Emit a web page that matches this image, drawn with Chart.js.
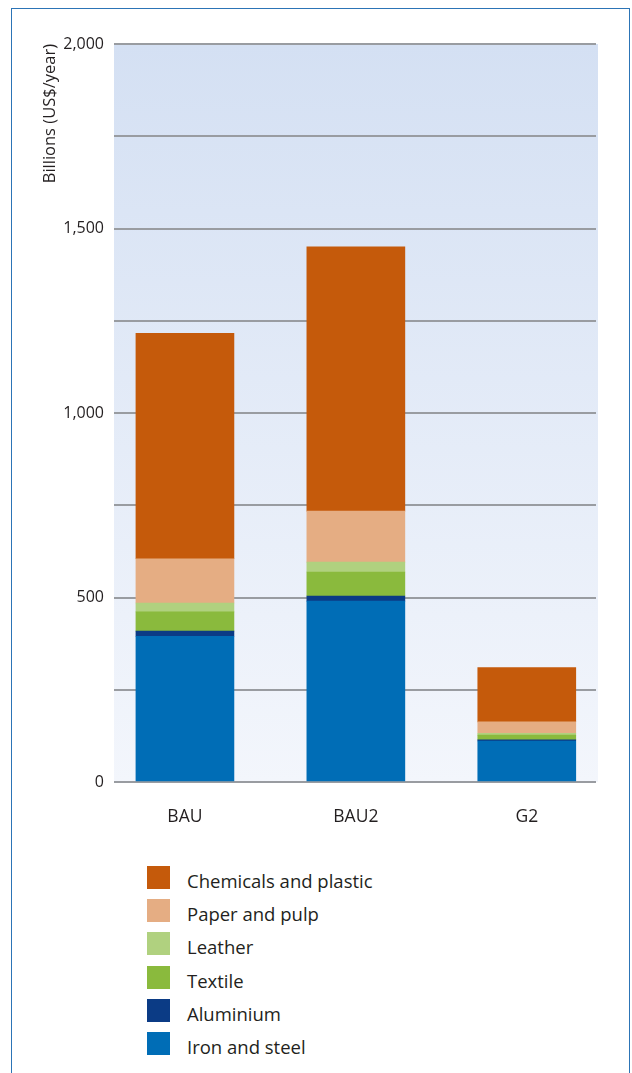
<!DOCTYPE html>
<html>
<head>
<meta charset="utf-8">
<script src="https://cdn.jsdelivr.net/npm/chart.js@4/dist/chart.umd.min.js"></script>
<style>
  html, body { margin: 0; padding: 0; background: #fff; }
  body { width: 632px; height: 1073px; position: relative; overflow: hidden; font-family: "Open Sans", sans-serif; }
  #frame { position: absolute; left: 11px; top: 8px; width: 617px; height: 1200px;
           border: 1.5px solid #2c74b6; border-bottom: none; }
  #wrap { position: absolute; left: 0; top: 0; width: 632px; height: 845px; }
  #legend { position: absolute; left: 147px; top: 866px; }
  .row { height: 33.2px; display: flex; align-items: flex-start; }
  .box { width: 23px; height: 23px; flex: none; }
  .lbl { margin-left: 17px; font-size: 18.5px; line-height: 24px; padding-top: 3px; color: #231f20; }
</style>
</head>
<body>
<div id="frame"></div>
<div id="wrap"><canvas id="myStackedChart"></canvas></div>
<div id="legend"></div>
<script>
const scenarios = ['BAU', 'BAU2', 'G2'];

// billions US$/year
const ironSteel = [395, 490, 111];
const aluminium = [14, 14, 3];
const textile = [52, 65, 13];
const leather = [24, 27, 5];
const paperPulp = [120, 138, 31];
const chemicalsPlastic = [611, 716, 147];

const yTicks = [0, 500, 1000, 1500, 2000];

const toPoints = (arr) => arr.map((v, i) => ({ x: i, y: v }));

const stackedData = {
  datasets: [
    { label: 'Iron and steel', data: toPoints(ironSteel), backgroundColor: '#006db6' },
    { label: 'Aluminium', data: toPoints(aluminium), backgroundColor: '#0b3b85' },
    { label: 'Textile', data: toPoints(textile), backgroundColor: '#8aba3d' },
    { label: 'Leather', data: toPoints(leather), backgroundColor: '#b0d17f' },
    { label: 'Paper and pulp', data: toPoints(paperPulp), backgroundColor: '#e5ad83' },
    { label: 'Chemicals and plastic', data: toPoints(chemicalsPlastic), backgroundColor: '#c55a0b' }
  ]
};

// light blue gradient behind the plot
const plotBackground = {
  id: 'plotBackground',
  beforeDraw(chart) {
    const { ctx, chartArea: a } = chart;
    const g = ctx.createLinearGradient(0, a.top, 0, a.bottom);
    g.addColorStop(0, '#d4e0f3');
    g.addColorStop(1, '#f3f6fc');
    ctx.save();
    ctx.fillStyle = g;
    ctx.fillRect(a.left, a.top, a.right - a.left + 2, a.bottom - a.top);
    ctx.restore();
  }
};

const stackedConfig = {
  type: 'bar',
  data: stackedData,
  options: {
    responsive: true,
    maintainAspectRatio: false,
    animation: false,
    layout: { padding: { left: 0, right: 36, top: 44, bottom: 0 } },
    barThickness: 98,
    plugins: {
      legend: { display: false },
      tooltip: { enabled: false }
    },
    scales: {
      x: {
        type: 'linear',
        stacked: true,
        offset: false,
        min: -0.415,
        max: 2.405,
        grid: { display: false, offset: false },
        border: { display: false },
        afterBuildTicks: (scale) => { scale.ticks = scenarios.map((_, i) => ({ value: i })); },
        afterFit: (scale) => { scale.height = 63; },
        ticks: {
          padding: 17,
          color: '#231f20',
          font: { family: 'Open Sans', size: 17.5 },
          callback: (v) => scenarios[v]
        }
      },
      y: {
        stacked: true,
        min: 0,
        max: 2000,
        afterFit: (scale) => { scale.width = 114; },
        grid: { color: '#999ca1', lineWidth: 2, drawTicks: false },
        border: { display: false },
        ticks: {
          stepSize: 250,
          padding: 10,
          color: '#231f20',
          font: { family: 'Open Sans', size: 16 },
          callback: (v) => yTicks.includes(v) ? v.toLocaleString('en-US') : ''
        },
        title: {
          display: true,
          text: 'Billions (US$/year)',
          align: 'end',
          color: '#231f20',
          font: { family: 'Open Sans', size: 16.5 },
          padding: { top: 40 }
        }
      }
    }
  },
  plugins: [plotBackground]
};

const myStackedChart = new Chart(document.getElementById('myStackedChart'), stackedConfig);

// legend, top of the stack first
const legendEl = document.getElementById('legend');
stackedData.datasets.slice().reverse().forEach((ds) => {
  const row = document.createElement('div');
  row.className = 'row';
  row.innerHTML = '<div class="box" style="background:' + ds.backgroundColor + '"></div><span class="lbl">' + ds.label + '</span>';
  legendEl.appendChild(row);
});
</script>
</body>
</html>
